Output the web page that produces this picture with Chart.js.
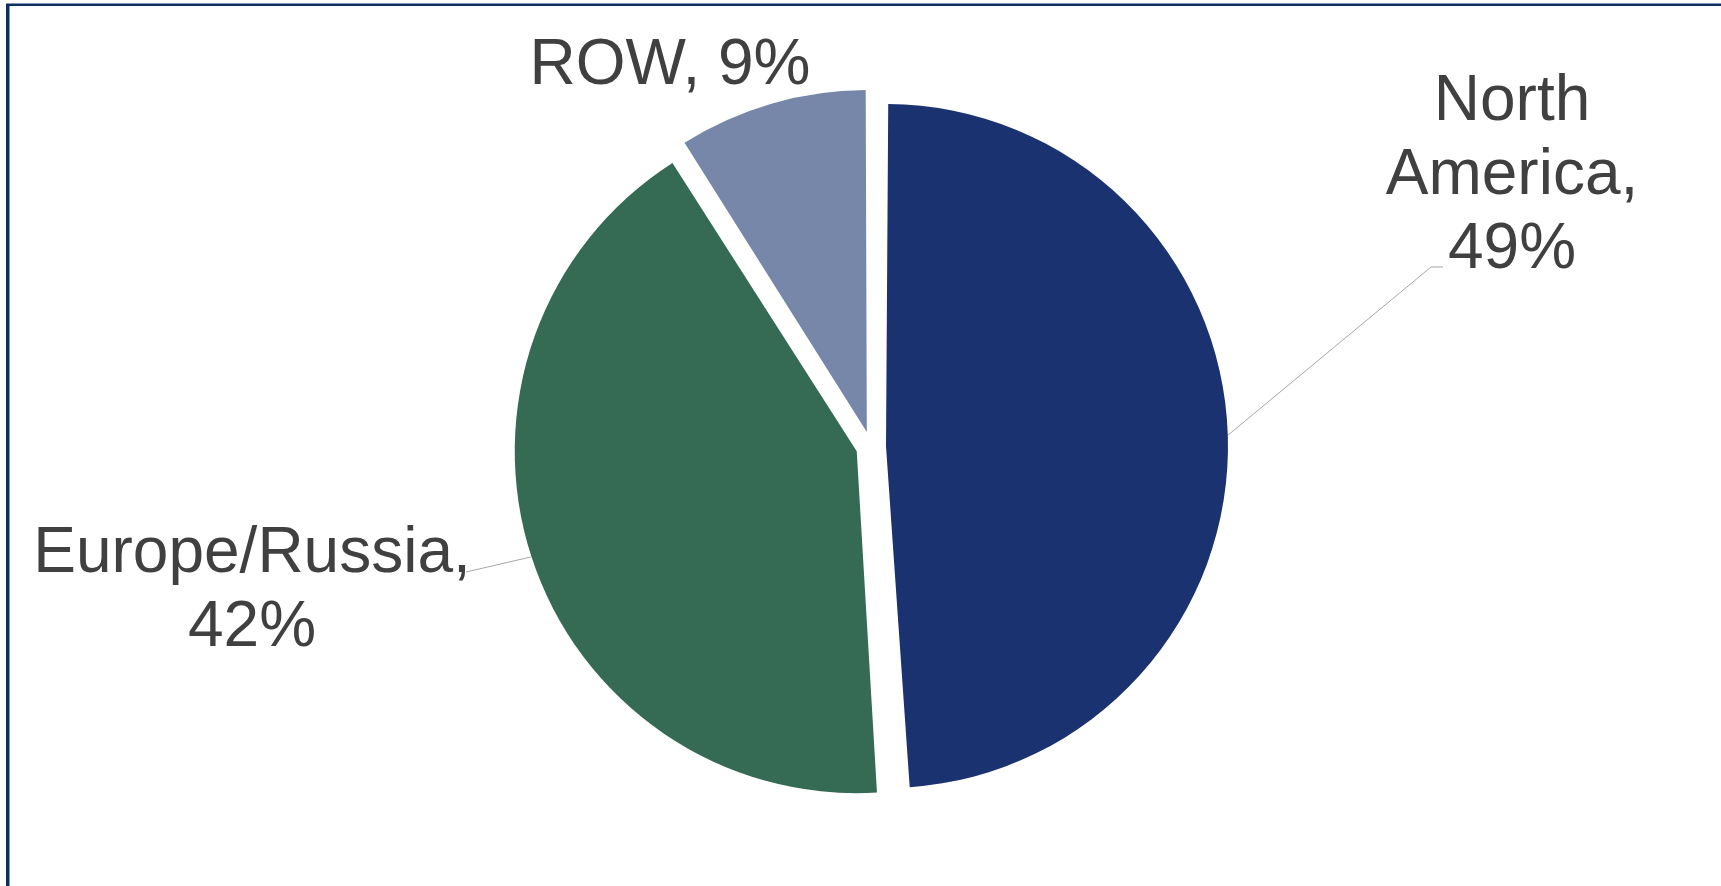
<!DOCTYPE html>
<html>
<head>
<meta charset="utf-8">
<style>
  html, body { margin: 0; padding: 0; background: #fff; }
  #wrap { position: relative; width: 1721px; height: 886px; }
</style>
</head>
<body>
<div id="wrap"><canvas id="regionPie" width="1721" height="886"></canvas></div>
<script src="https://cdn.jsdelivr.net/npm/chart.js@4"></script>
<script>
  const regions = ['North America', 'Europe/Russia', 'ROW'];
  const shares = [49, 42, 9];
  const sliceColors = ['#1B3270', '#356A55', '#7787AA'];

  // where each label goes: text centre, first baseline, words per row, leader end points
  const labelLayout = [
    { x: 1512, y: 120, rows: [1, 1, 1], leader: [[1431, 267], [1443, 267]] },
    { x: 252, y: 572, rows: [1, 1], leader: [[466, 572]] },
    { x: 670, y: 84, rows: [2], leader: null }
  ];

  const PIE_RADIUS = 342;
  const EXPLODE = 60;          // chart.js moves each slice by offset / 4
  const LINE_HEIGHT = 74;
  const LABEL_FONT = '64px "Liberation Sans", Arial, sans-serif';

  // chart.js grows small slices when they are offset; keep every slice the same size
  const evenExplode = {
    id: 'evenExplode',
    afterDatasetsUpdate(chart) {
      chart.getDatasetMeta(0).data.forEach(arc => {
        const shift = EXPLODE / 4;
        const sweep = arc.endAngle - arc.startAngle;
        const fix = 1 - Math.sin(Math.min(Math.PI, sweep));
        arc.outerRadius = PIE_RADIUS - shift * fix;
      });
    }
  };

  // outer frame (top and left rules)
  const frame = {
    id: 'frame',
    beforeDraw(chart) {
      const ctx = chart.ctx;
      ctx.save();
      ctx.fillStyle = '#7F98BC';
      ctx.fillRect(6, 3, chart.width - 6, 1);
      ctx.fillRect(9, 6, 1, chart.height - 6);
      ctx.fillStyle = '#0B2F5E';
      ctx.fillRect(6, 4, chart.width - 6, 2);
      ctx.fillRect(6, 4, 3, chart.height - 4);
      ctx.restore();
    }
  };

  const sliceLabels = {
    id: 'sliceLabels',
    afterDatasetsDraw(chart) {
      const ctx = chart.ctx;
      const meta = chart.getDatasetMeta(0);
      ctx.save();
      meta.data.forEach((arc, i) => {
        const lay = labelLayout[i];
        const mid = (arc.startAngle + arc.endAngle) / 2;
        const reach = EXPLODE / 4 + PIE_RADIUS;
        const tipX = arc.x + Math.cos(mid) * reach;
        const tipY = arc.y + Math.sin(mid) * reach;

        if (lay.leader) {
          ctx.strokeStyle = '#A6A6A6';
          ctx.lineWidth = 1;
          ctx.beginPath();
          ctx.moveTo(tipX, tipY);
          lay.leader.forEach(p => ctx.lineTo(p[0], p[1]));
          ctx.stroke();
        }

        const words = `${regions[i]}, ${shares[i]}%`.split(' ');
        ctx.font = LABEL_FONT;
        ctx.fillStyle = '#404040';
        ctx.textAlign = 'center';
        ctx.textBaseline = 'alphabetic';
        let w = 0;
        lay.rows.forEach((n, r) => {
          const line = words.slice(w, w + n).join(' ');
          w += n;
          ctx.fillText(line, lay.x, lay.y + r * LINE_HEIGHT);
        });
      });
      ctx.restore();
    }
  };

  new Chart(document.getElementById('regionPie'), {
    type: 'pie',
    data: {
      labels: regions,
      datasets: [{
        data: shares,
        backgroundColor: sliceColors,
        borderWidth: 0,
        offset: EXPLODE,
        radius: PIE_RADIUS
      }]
    },
    options: {
      responsive: false,
      animation: false,
      events: [],
      layout: { padding: { left: 21, top: 7, right: 0, bottom: 0 } },
      plugins: {
        legend: { display: false },
        tooltip: { enabled: false }
      }
    },
    plugins: [frame, evenExplode, sliceLabels]
  });
</script>
</body>
</html>
